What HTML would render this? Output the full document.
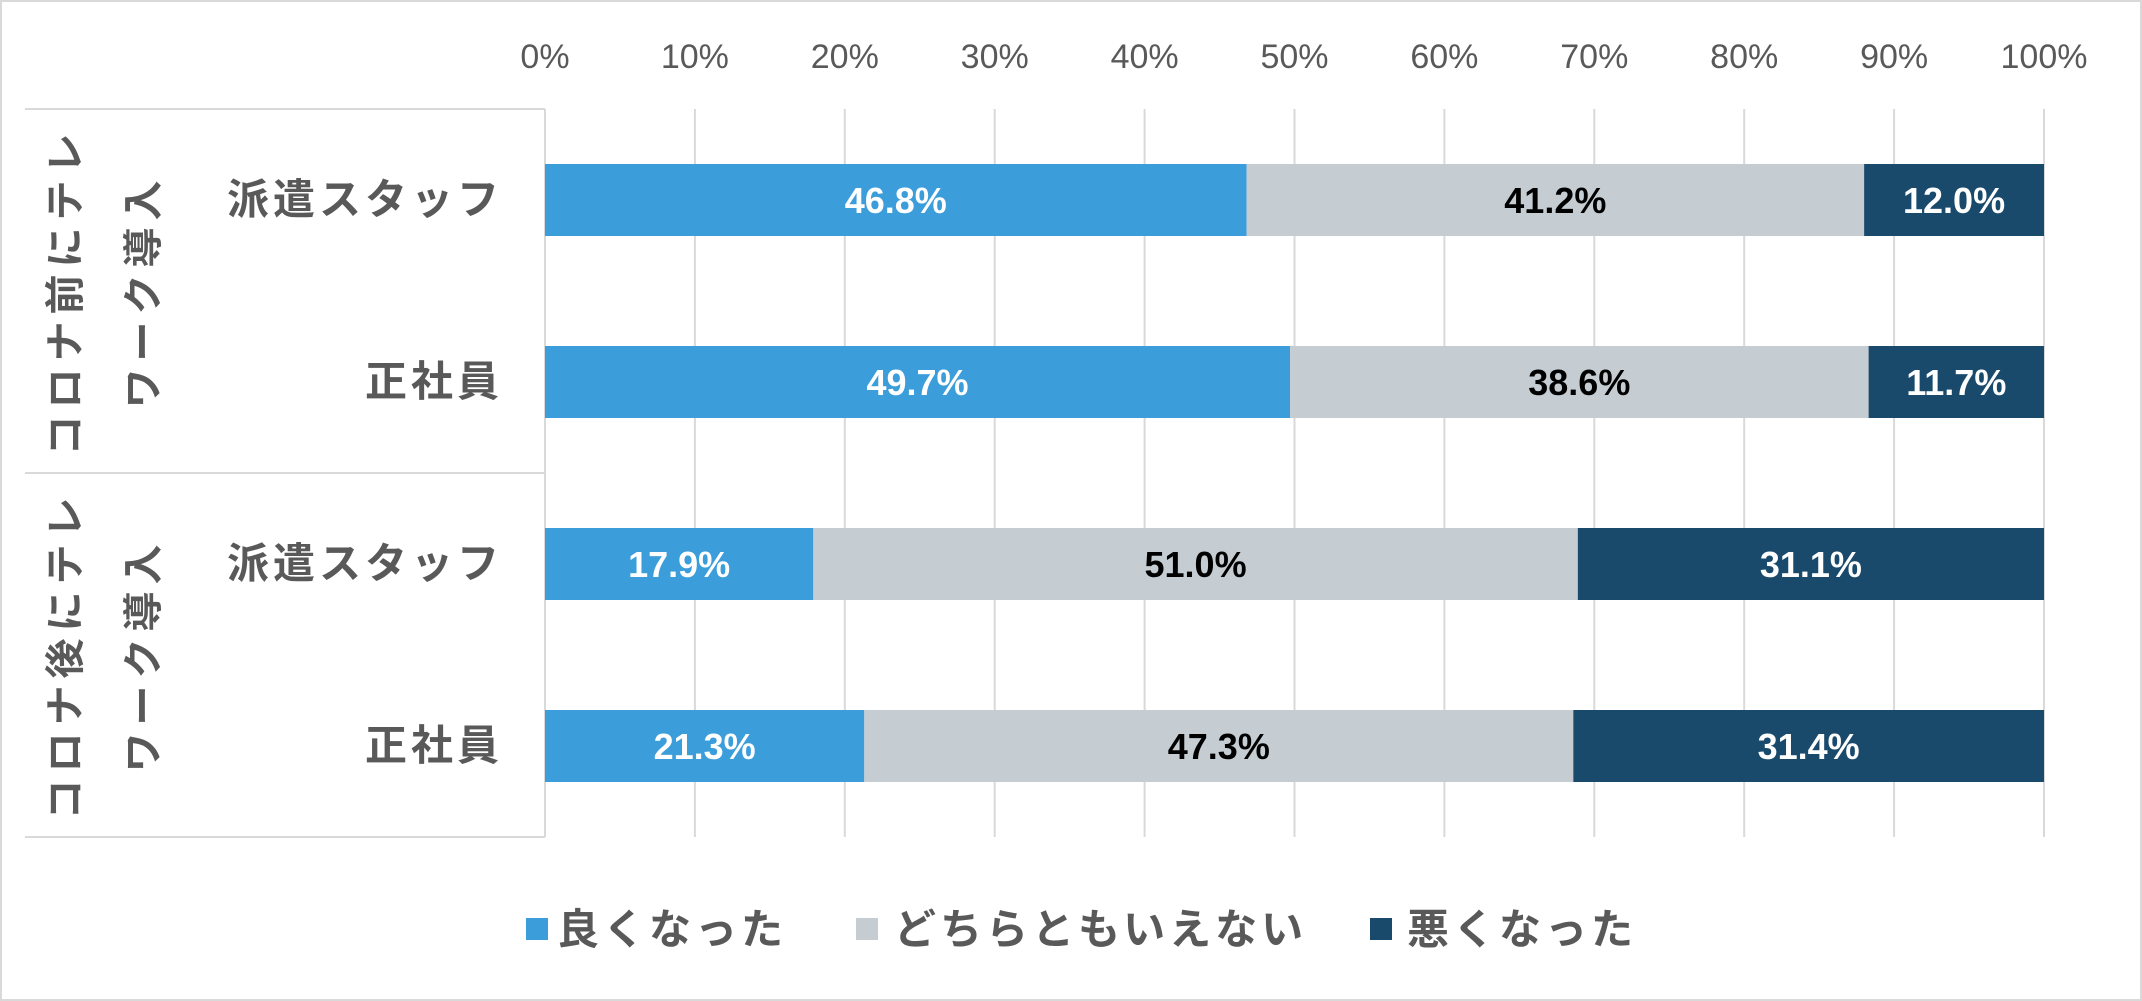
<!DOCTYPE html>
<html><head><meta charset="utf-8">
<style>
html,body{margin:0;padding:0;background:#fff}
svg{display:block;font-family:"Liberation Sans","Noto Sans CJK JP",sans-serif}
</style></head>
<body>
<svg id="chart" width="2142" height="1001" viewBox="0 0 2142 1001" xmlns="http://www.w3.org/2000/svg">
<rect x="1" y="1" width="2140" height="999" fill="#fff" stroke="#d9d9d9" stroke-width="2"/>
<g id="grid"></g>
<g id="ticks"></g>
<g>
  <line x1="25" y1="109" x2="545" y2="109" stroke="#d9d9d9" stroke-width="2"/>
  <line x1="25" y1="473" x2="545" y2="473" stroke="#d9d9d9" stroke-width="2"/>
  <line x1="25" y1="837" x2="545" y2="837" stroke="#d9d9d9" stroke-width="2"/>
  <line x1="545" y1="109" x2="545" y2="837" stroke="#d9d9d9" stroke-width="2"/>
  <g font-size="40" font-weight="bold" fill="#595959" letter-spacing="7" text-anchor="middle">
    <text transform="translate(79,291) rotate(-90)">コロナ前にテレ</text>
    <text transform="translate(157,291) rotate(-90)">ワーク導入</text>
    <text transform="translate(79,655) rotate(-90)">コロナ後にテレ</text>
    <text transform="translate(157,655) rotate(-90)">ワーク導入</text>
  </g>
</g>
<g id="cats"></g>
<g id="bars"></g>
<g font-size="42" font-weight="bold" fill="#595959" letter-spacing="4">
  <g><rect x="526" y="918" width="22" height="22" fill="#3c9ddb"/><text x="557" y="944">良くなった</text></g>
  <g><rect x="856" y="918" width="22" height="22" fill="#c5cdd2"/><text x="894" y="944">どちらともいえない</text></g>
  <g><rect x="1370" y="918" width="22" height="22" fill="#1a4a6b"/><text x="1407" y="944">悪くなった</text></g>
</g>
</svg>
<script>
const categories = ["派遣スタッフ","正社員","派遣スタッフ","正社員"];
const better = [46.8, 49.7, 17.9, 21.3];
const neutral = [41.2, 38.6, 51.0, 47.3];
const worse = [12.0, 11.7, 31.1, 31.4];
const tickValues = [0,10,20,30,40,50,60,70,80,90,100];

const NS="http://www.w3.org/2000/svg";
const x0=545, x1=2044, yTop=109, yBot=837;
const xs=v=>x0+(x1-x0)*v/100;
const bandH=(yBot-yTop)/categories.length;
const yBand=i=>yTop+bandH*i+bandH/2;
const barH=72;
function mk(tag,attrs,parent){const e=document.createElementNS(NS,tag);for(const k in attrs)e.setAttribute(k,attrs[k]);parent.appendChild(e);return e;}
const grid=document.getElementById('grid'),ticks=document.getElementById('ticks');
tickValues.forEach(t=>{
  const l=mk('line',{x1:xs(t),x2:xs(t),y1:yTop,y2:yBot,stroke:'#d9d9d9','stroke-width':2},grid);
  
  
  const tx=mk('text',{x:xs(t),y:68,'text-anchor':'middle','font-size':34,fill:'#595959'},ticks);
  tx.textContent=t+'%';
  
  
});
const cats=document.getElementById('cats');
categories.forEach((c,i)=>{
  const t=mk('text',{x:503,y:yBand(i)+14,'text-anchor':'end','font-size':42,'font-weight':'bold',fill:'#595959','letter-spacing':4},cats);
  t.textContent=c;
  
  
});
const bars=document.getElementById('bars');
const series=[[better,'#3c9ddb','#fff','bar-better'],[neutral,'#c5cdd2','#000','bar-neutral'],[worse,'#1a4a6b','#fff','bar-worse']];
categories.forEach((c,i)=>{
  let acc=0;
  series.forEach(([arr,col,tc,nm])=>{
    const v=arr[i];
    const r=mk('rect',{x:xs(acc),y:yBand(i)-barH/2,width:xs(acc+v)-xs(acc),height:barH,fill:col},bars);
    
    
    const t=mk('text',{x:(xs(acc)+xs(acc+v))/2,y:yBand(i)+13,'text-anchor':'middle','font-size':36,'font-weight':'bold',fill:tc},bars);
    t.textContent=v.toFixed(1)+'%';
    
    
    acc+=v;
  });
});
</script>
</body></html>
